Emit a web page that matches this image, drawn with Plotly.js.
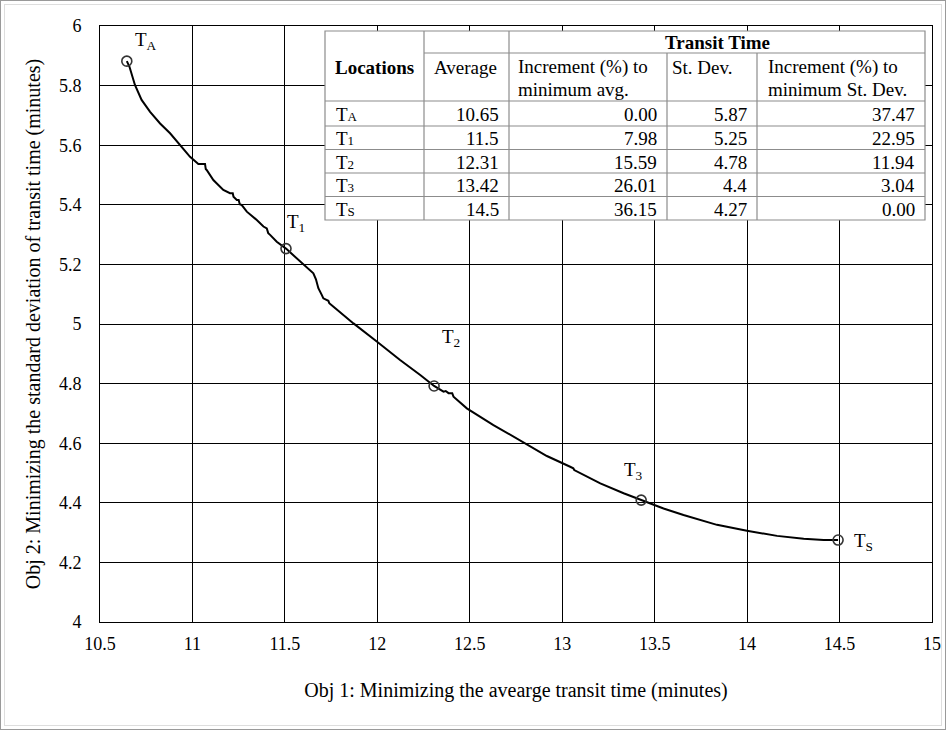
<!DOCTYPE html>
<html>
<head>
<meta charset="utf-8">
<script src="https://cdn.plot.ly/plotly-3.0.1.min.js"></script>
<style>
  html, body { margin: 0; padding: 0; background: #fff; }
  #wrap { position: relative; width: 946px; height: 730px; }
  #chart { width: 946px; height: 730px; }
  #frame1 { position: absolute; left: 0; top: 0; width: 944px; height: 728px; border: 1px solid #9a9a9a; pointer-events: none; }
  #frame2 { position: absolute; left: 4px; top: 4px; width: 936px; height: 720px; border: 1px solid #dedede; pointer-events: none; }
</style>
</head>
<body>
<div id="wrap">
  <div id="chart"></div>
  <div id="frame1"></div>
  <div id="frame2"></div>
</div>
<script>
// ---------------- data ----------------
const curveX = [10.645,10.659,10.689,10.725,10.771,10.825,10.879,10.933,10.987,11.032,11.068,11.072,11.077,11.113,11.167,11.203,11.218,11.222,11.240,11.250,11.256,11.267,11.294,11.348,11.384,11.402,11.410,11.420,11.456,11.506,11.564,11.618,11.654,11.668,11.681,11.700,11.708,11.735,11.740,11.763,11.871,11.997,12.123,12.232,12.307,12.358,12.370,12.385,12.405,12.412,12.484,12.628,12.773,12.917,13.043,13.060,13.065,13.206,13.332,13.427,13.548,13.656,13.837,13.999,14.162,14.306,14.414,14.492];
const curveY = [5.882,5.864,5.802,5.752,5.712,5.673,5.640,5.601,5.561,5.537,5.537,5.520,5.517,5.483,5.450,5.439,5.439,5.427,5.416,5.416,5.402,5.399,5.377,5.349,5.327,5.321,5.305,5.299,5.276,5.253,5.220,5.192,5.170,5.150,5.120,5.097,5.086,5.078,5.070,5.058,5.002,4.941,4.879,4.829,4.792,4.773,4.775,4.768,4.768,4.756,4.717,4.661,4.609,4.557,4.521,4.516,4.510,4.465,4.432,4.409,4.381,4.359,4.326,4.306,4.289,4.279,4.275,4.275];

const markerX = [10.645, 11.506, 12.307, 13.427, 14.492];
const markerY = [5.882, 5.253, 4.792, 4.409, 4.275];
const markerLabels = ['T<sub>A</sub>', 'T<sub>1</sub>', 'T<sub>2</sub>', 'T<sub>3</sub>', 'T<sub>S</sub>'];

const xTickVals = [10.5, 11, 11.5, 12, 12.5, 13, 13.5, 14, 14.5, 15];
const yTickVals = [4, 4.2, 4.4, 4.6, 4.8, 5, 5.2, 5.4, 5.6, 5.8, 6];

const xTitle = 'Obj 1: Minimizing the avearge transit time (minutes)';
const yTitle = 'Obj 2: Minimizing the standard deviation of transit time (minutes)';

// table
const locations = ['T<span style="font-size:13px">A</span>', 'T<span style="font-size:13px">1</span>', 'T<span style="font-size:13px">2</span>', 'T<span style="font-size:13px">3</span>', 'T<span style="font-size:13px">S</span>'];
const avgTime = ['10.65', '11.5', '12.31', '13.42', '14.5'];
const avgIncrement = ['0.00', '7.98', '15.59', '26.01', '36.15'];
const stdDev = ['5.87', '5.25', '4.78', '4.4', '4.27'];
const stdIncrement = ['37.47', '22.95', '11.94', '3.04', '0.00'];
const tableHeaderTop = 'Transit Time';
const tableHeaders = ['Locations', 'Average', 'Increment (%) to', 'St. Dev.', 'Increment (%) to'];
const tableHeaders2 = ['', '', 'minimum avg.', '', 'minimum St. Dev.'];

// ---------------- layout helpers (pixel geometry) ----------------
const W = 946, H = 730;
const M = {l: 100, r: 14, t: 26, b: 108};
const PW = W - M.l - M.r, PH = H - M.t - M.b;
const px = x => (x - M.l) / PW;        // pixel -> paper x
const py = y => (M.t + PH - y) / PH;   // pixel -> paper y

const FONT = 'Liberation Serif, Times New Roman, serif';
const tblFont = {family: FONT, size: 19, color: '#000'};

const colX = [325, 424, 509, 667, 757, 925];
const rowY = [31, 53, 101, 126, 149.5, 173, 196.5, 220];

const shapes = [];
const annotations = [];
const lineCol = '#8c8c8c';

shapes.push({type: 'rect', xref: 'paper', yref: 'paper', layer: 'above',
  x0: px(colX[0]), x1: px(colX[5]), y0: py(rowY[0]), y1: py(rowY[7]),
  fillcolor: '#fff', line: {color: lineCol, width: 1.2}});
function hline(y, x0, x1) {
  shapes.push({type: 'line', xref: 'paper', yref: 'paper', layer: 'above',
    x0: px(x0), x1: px(x1), y0: py(y), y1: py(y), line: {color: lineCol, width: 1.2}});
}
function vline(x, y0, y1) {
  shapes.push({type: 'line', xref: 'paper', yref: 'paper', layer: 'above',
    x0: px(x), x1: px(x), y0: py(y0), y1: py(y1), line: {color: lineCol, width: 1.2}});
}
hline(rowY[1], colX[1], colX[5]);
for (let i = 2; i < 7; i++) hline(rowY[i], colX[0], colX[5]);
vline(colX[1], rowY[0], rowY[7]);
vline(colX[2], rowY[0], rowY[7]);
vline(colX[3], rowY[1], rowY[7]);
vline(colX[4], rowY[1], rowY[7]);

function txt(text, x, y, xanchor, bold) {
  if (!text) return;
  annotations.push({xref: 'paper', yref: 'paper', x: px(x), y: py(y), text: bold ? '<b>' + text + '</b>' : text,
    showarrow: false, xanchor: xanchor, yanchor: 'middle', align: 'left',
    font: tblFont});
}
// header
txt(tableHeaderTop, (colX[2] + colX[5]) / 2, (rowY[0] + rowY[1]) / 2 + 1, 'center', true);
txt(tableHeaders[0], (colX[0] + colX[1]) / 2, 67, 'center', true);
const hdrPad = [0, 8, 7, 3, 9];
for (let c = 1; c < 5; c++) {
  txt(tableHeaders[c], colX[c] + hdrPad[c], 67, 'left');
  txt(tableHeaders2[c], colX[c] + hdrPad[c], 89, 'left');
}
// rows
const cols = [avgTime, avgIncrement, stdDev, stdIncrement];
for (let r = 0; r < locations.length; r++) {
  const yc = (rowY[r + 2] + rowY[r + 3]) / 2 + 1;
  txt(locations[r], colX[0] + 9, yc, 'left');
  for (let c = 0; c < cols.length; c++) {
    txt(cols[c][r], colX[c + 2] - 8, yc, 'right');
  }
}

// point labels
const labelShift = [[19, 20], [10, 26], [17, 48], [-8, 29], [25, -2]];
for (let i = 0; i < markerX.length; i++) {
  annotations.push({x: markerX[i], y: markerY[i], xref: 'x', yref: 'y', text: markerLabels[i],
    showarrow: false, xshift: labelShift[i][0], yshift: labelShift[i][1],
    font: {family: FONT, size: 19, color: '#000'}});
}

const traces = [
  {x: curveX, y: curveY, type: 'scatter', mode: 'lines', line: {color: '#000', width: 2}, hoverinfo: 'skip'},
  {x: markerX, y: markerY, type: 'scatter', mode: 'markers',
   marker: {symbol: 'circle-open', size: 10, color: '#333', line: {width: 1.6, color: '#333'}}}
];

const layout = {
  width: W, height: H,
  margin: M,
  paper_bgcolor: '#fff', plot_bgcolor: '#fff',
  showlegend: false,
  font: {family: FONT, color: '#000'},
  xaxis: {
    range: [10.5, 15], tickvals: xTickVals, ticktext: xTickVals.map(String),
    showgrid: true, gridcolor: '#000', gridwidth: 1,
    showline: true, linecolor: '#000', linewidth: 1, mirror: true,
    zeroline: false, ticks: '', ticklabelstandoff: 5,
    tickfont: {family: FONT, size: 18, color: '#000'},
    title: {text: xTitle, font: {family: FONT, size: 20, color: '#000'}, standoff: 30}
  },
  yaxis: {
    range: [4, 6], tickvals: yTickVals, ticktext: yTickVals.map(String),
    showgrid: true, gridcolor: '#000', gridwidth: 1,
    showline: true, linecolor: '#000', linewidth: 1, mirror: true,
    zeroline: false, ticks: '', ticklabelstandoff: 14,
    tickfont: {family: FONT, size: 18, color: '#000'},
    title: {text: yTitle, font: {family: FONT, size: 20, color: '#000'}, standoff: 12}
  },
  shapes: shapes,
  annotations: annotations
};

Plotly.newPlot('chart', traces, layout, {displayModeBar: false, staticPlot: true});
</script>
</body>
</html>
